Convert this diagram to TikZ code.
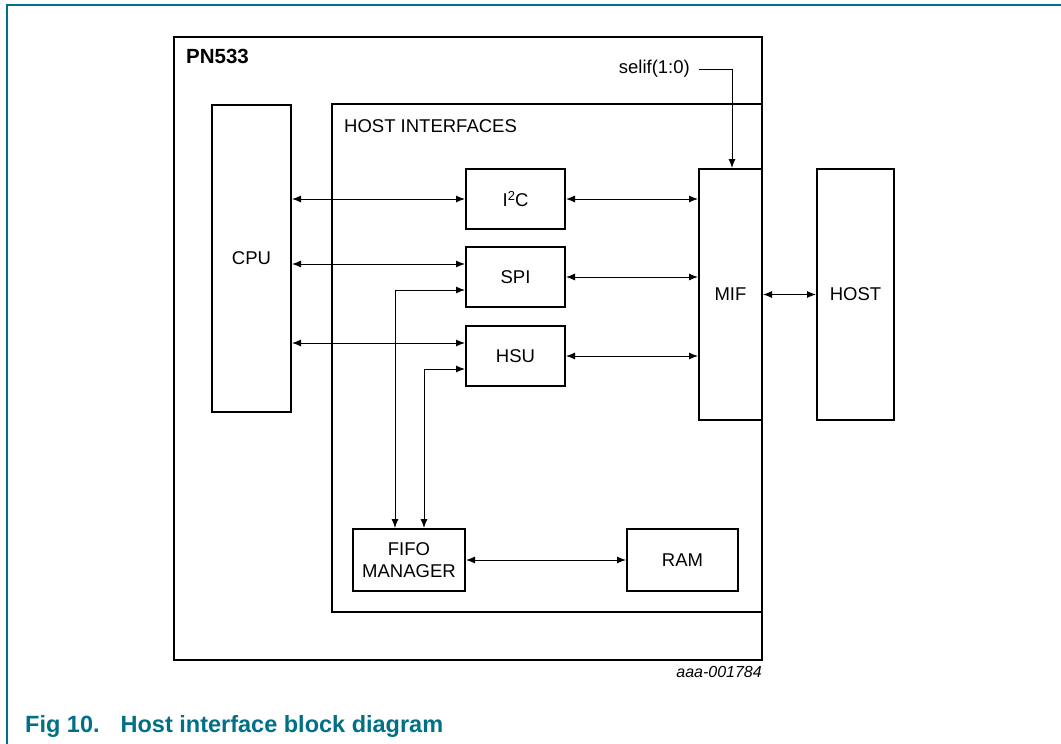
\documentclass[tikz,border=0pt]{standalone}
\usepackage{fontspec}
\setmainfont{Liberation Sans}
\usetikzlibrary{arrows.meta}
\definecolor{figteal}{RGB}{0,112,135}
\begin{document}
\begin{tikzpicture}[x=1pt,y=-1pt,
  blk/.style={draw, line width=2pt, inner sep=0pt, align=center, font=\fontsize{18.5}{22}\selectfont},
  link/.style={line width=1pt, {Latex[length=9pt,width=7pt]}-{Latex[length=9pt,width=7pt]}}]
\useasboundingbox (0,0) rectangle (1061,744);
\draw[figteal, line width=1.5pt] (1061,5) -- (7,5) -- (7,744);
% chip and host interface frames
\draw[line width=2.2pt] (174,37) rectangle (762,660);
\draw[line width=2pt] (762,104) -- (332,104) -- (332,612) -- (762,612);
\node[anchor=base west, inner sep=0pt, font=\fontsize{20.5}{24}\selectfont\bfseries] (pn533) at (186,63) {PN533};
\node[anchor=base west, inner sep=0pt, font=\fontsize{18.5}{22}\selectfont] (hostif) at (344,132) {HOST INTERFACES};
% blocks
\node[blk, minimum width=79pt, minimum height=307pt] (cpu) at (251.5,258.5) {CPU};
\node[blk, minimum width=99pt, minimum height=60pt] (i2c) at (515.5,199) {I\raisebox{6pt}{\fontsize{13}{15}\selectfont 2}C};
\node[blk, minimum width=99pt, minimum height=60pt] (spi) at (515.5,277) {SPI};
\node[blk, minimum width=99pt, minimum height=60pt] (hsu) at (515.5,356) {HSU};
\node[blk, minimum width=63pt, minimum height=251pt] (mif) at (730.5,294.5) {MIF};
\node[blk, minimum width=77pt, minimum height=251pt] (host) at (855.5,294.5) {HOST};
\node[blk, minimum width=112pt, minimum height=62pt] (fifo) at (409,560) {FIFO\\MANAGER};
\node[blk, minimum width=111pt, minimum height=62pt] (ram) at (682.5,560) {RAM};
\node[anchor=east, inner sep=0pt, font=\fontsize{18.5}{22}\selectfont] (selif) at (690,69) {selif(1:0)};
% connections
\coordinate (spiin) at ([yshift=13pt]spi.west);
\coordinate (hsuin) at ([yshift=13pt]hsu.west);
\draw[link] (cpu.east |- i2c.west) -- (i2c.west);
\draw[link] (cpu.east |- spiin) -- (spiin);
\draw[link] (cpu.east |- hsuin) -- (hsuin);
\draw[link] ([yshift=-13pt]spi.west) -| ([xshift=-14pt]fifo.north);
\draw[link] ([yshift=-13pt]hsu.west) -| ([xshift=15pt]fifo.north);
\draw[link] (i2c.east) -- (i2c.east -| mif.west);
\draw[link] (spi.east) -- (spi.east -| mif.west);
\draw[link] (hsu.east) -- (hsu.east -| mif.west);
\draw[link] (mif.east) -- (host.west);
\draw[link] (fifo.east) -- (ram.west);
\draw[line width=1pt, -{Latex[length=9pt,width=7pt]}] ([xshift=9pt]selif.east) -| ([xshift=1.5pt]mif.north);
% figure id and caption
\node[anchor=base east, inner sep=0pt, font=\fontsize{16}{19}\selectfont\itshape] (figid) at (762,677) {aaa-001784};
\node[anchor=base west, inner sep=0pt, text=figteal, font=\fontsize{23.5}{28}\selectfont\bfseries] (caption) at (25,732) {Fig 10.\hspace{21pt}Host interface block diagram};
\end{tikzpicture}
\end{document}
